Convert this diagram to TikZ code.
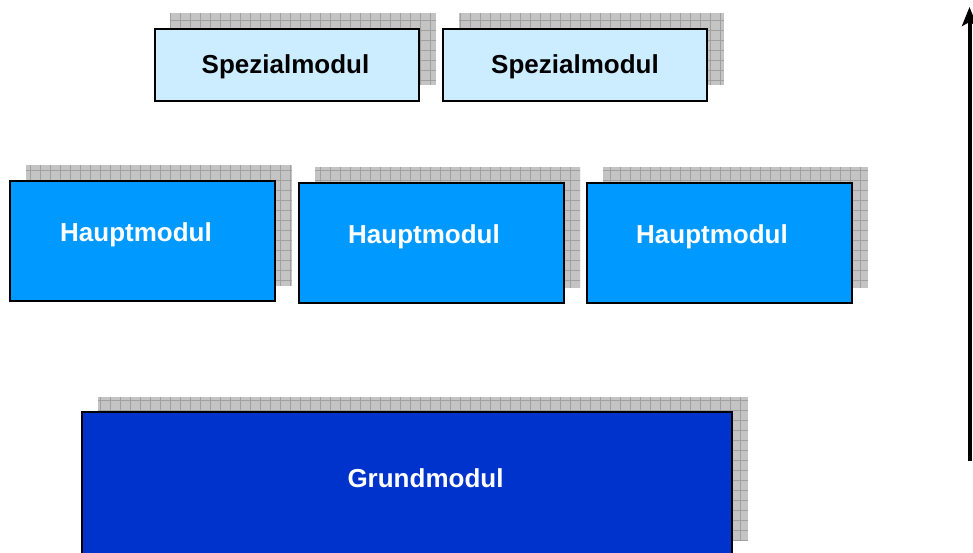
\documentclass[tikz,border=0pt]{standalone}
\usepackage{fontspec}
\setmainfont{Liberation Sans}
\usetikzlibrary{arrows.meta}
\definecolor{spez}{HTML}{CCECFF}
\definecolor{haupt}{HTML}{0099FF}
\definecolor{grund}{HTML}{0033CC}
\definecolor{shfill}{HTML}{C4C4C4}
\definecolor{shgrid}{HTML}{A0A0A0}
\tikzset{
  boxbase/.style={draw=black, line width=2pt, rectangle, inner sep=0pt},
  spezbox/.style={boxbase, fill=spez, minimum width=264pt, minimum height=72pt},
  hauptbox/.style={boxbase, fill=haupt, minimum width=265pt, minimum height=120pt},
  grundbox/.style={boxbase, fill=grund, minimum width=650pt, minimum height=142pt},
  lbl/.style={font=\fontsize{26}{30}\selectfont\bfseries, anchor=base, inner sep=0pt},
}
\newcommand{\gridshadow}[4]{%
  \begin{scope}
    \clip (#1,#2) rectangle (#3,#4);
    \fill[shfill] (#1,#2) rectangle (#3,#4);
    \draw[shgrid, line width=0.8pt, step=10pt] (#1,#2) grid (#3,#4);
  \end{scope}}
\begin{document}
\begin{tikzpicture}[x=1pt,y=-1pt]
\useasboundingbox (0,0) rectangle (973,552);
% shadows
\gridshadow{170}{13}{436}{85}
\gridshadow{459}{13}{724}{85}
\gridshadow{26}{165}{292}{286}
\gridshadow{315}{167}{580}{288}
\gridshadow{603}{167}{868}{288}
\gridshadow{98}{397}{748}{540}
% boxes
\node[spezbox] (s1) at (287,65) {};
\node[spezbox] (s2) at (575,65) {};
\node[hauptbox] (h1) at (142.5,241) {};
\node[hauptbox] (h2) at (431,243) {};
\node[hauptbox] (h3) at (719,243) {};
\node[grundbox] (g) at (407,483) {};
% labels
\node[lbl, text=black] (ts1) at (285.5,73) {Spezialmodul};
\node[lbl, text=black] (ts2) at (575,73) {Spezialmodul};
\node[lbl, text=white] (th1) at (136,241) {Hauptmodul};
\node[lbl, text=white] (th2) at (424,243) {Hauptmodul};
\node[lbl, text=white] (th3) at (712,243) {Hauptmodul};
\node[lbl, text=white] (tg) at (425.5,487) {Grundmodul};
% arrow
\coordinate (abot) at (969.5,461);
\coordinate (atop) at (969.5,7);
\draw[line width=4pt, -{Stealth[length=19pt,width=15pt,inset=4pt]}] (abot) -- (atop);
\end{tikzpicture}
\end{document}
